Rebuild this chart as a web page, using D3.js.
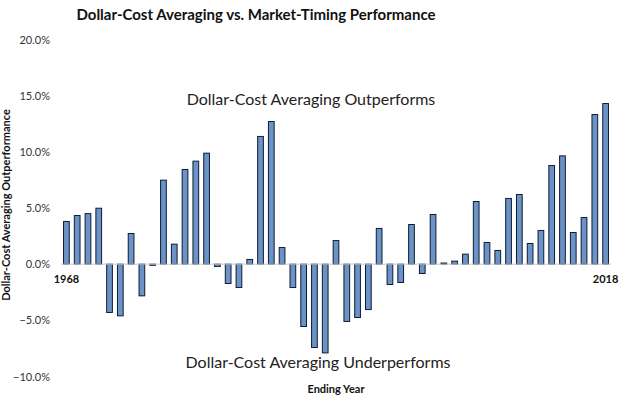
<!DOCTYPE html>
<html>
<head>
<meta charset="utf-8">
<script src="https://cdn.jsdelivr.net/npm/d3@7"></script>
<style>
  body { margin: 0; background: #fff; }
  svg { display: block; font-family: Lato, "Open Sans", sans-serif; }
</style>
</head>
<body>
<svg id="chart"></svg>
<script>
// years 1968 .. 2018
const years = d3.range(1968, 2019);
// DCA outperformance in %
const values = [
  3.8, 4.33, 4.5, 4.98, -4.3, -4.6, 2.73, -2.82, -0.1, 7.48,
  1.78, 8.43, 9.17, 9.88, -0.2, -1.72, -2.08, 0.42, 11.37, 12.7,
  1.48, -2.08, -5.55, -7.42, -7.9, 2.1, -5.1, -4.75, -4.04, 3.18,
  -1.81, -1.63, 3.53, -0.83, 4.42, 0.1, 0.27, 0.89, 5.58, 1.93,
  1.22, 5.85, 6.2, 1.84, 3.0, 8.78, 9.64, 2.82, 4.15, 13.32, 14.3
];
const yTicks = [-10, -5, 0, 5, 10, 15, 20];
const edgeLabels = ["1968", "2018"];

const width = 623, height = 399;
const data = years.map((y, i) => ({ year: y, value: values[i] }));

const svg = d3.select("#chart").attr("width", width).attr("height", height);

const x = d3.scaleBand()
  .domain(years)
  .range([61, 611])
  .paddingInner(0.47)
  .paddingOuter(0.235);

const y = d3.scaleLinear()
  .domain([-10, 20])
  .range([376.5, 39.5]);

// title
svg.append("text")
  .attr("x", 256).attr("y", 20)
  .attr("text-anchor", "middle")
  .attr("font-weight", "bold")
  .attr("font-size", 15)
  .attr("fill", "#111")
  .text("Dollar-Cost Averaging vs. Market-Timing Performance");

// y axis labels (no line)
const yAxis = svg.append("g")
  .attr("transform", "translate(61,0)")
  .call(d3.axisLeft(y).tickValues(yTicks).tickSize(0).tickPadding(11)
    .tickFormat(d => d3.format(".1f")(d) + "%"));
yAxis.select(".domain").remove();
yAxis.selectAll("text")
  .attr("font-family", "Lato, sans-serif")
  .attr("font-size", 11)
  .attr("fill", "#333");

// bars
svg.append("g")
  .selectAll("rect")
  .data(data)
  .join("rect")
  .attr("x", d => x(d.year))
  .attr("y", d => y(Math.max(0, d.value)))
  .attr("width", x.bandwidth())
  .attr("height", d => Math.abs(y(d.value) - y(0)))
  .attr("fill", "#6b93c6")
  .attr("stroke", "#0d1b33")
  .attr("stroke-width", 1);

// zero line
svg.append("line")
  .attr("x1", 61).attr("x2", 611)
  .attr("y1", y(0)).attr("y2", y(0))
  .attr("stroke", "#c8c8c8")
  .attr("stroke-width", 1);

// first / last year labels
svg.append("g")
  .selectAll("text")
  .data(edgeLabels)
  .join("text")
  .attr("x", d => x(+d) + x.bandwidth() / 2)
  .attr("y", 283)
  .attr("text-anchor", "middle")
  .attr("font-weight", "bold")
  .attr("font-size", 11)
  .attr("fill", "#111")
  .text(d => d);

// annotations
svg.append("text")
  .attr("x", 311).attr("y", 105)
  .attr("text-anchor", "middle")
  .attr("font-size", 16)
  .attr("fill", "#222")
  .text("Dollar-Cost Averaging Outperforms");

svg.append("text")
  .attr("x", 318).attr("y", 368)
  .attr("text-anchor", "middle")
  .attr("font-size", 16)
  .attr("fill", "#222")
  .text("Dollar-Cost Averaging Underperforms");

// axis titles
svg.append("text")
  .attr("x", 336).attr("y", 393)
  .attr("text-anchor", "middle")
  .attr("font-weight", "bold")
  .attr("font-size", 11)
  .attr("fill", "#111")
  .text("Ending Year");

svg.append("text")
  .attr("transform", "translate(10,205) rotate(-90)")
  .attr("text-anchor", "middle")
  .attr("font-weight", "bold")
  .attr("font-size", 11)
  .attr("fill", "#111")
  .text("Dollar-Cost Averaging Outperformance");
</script>
</body>
</html>
